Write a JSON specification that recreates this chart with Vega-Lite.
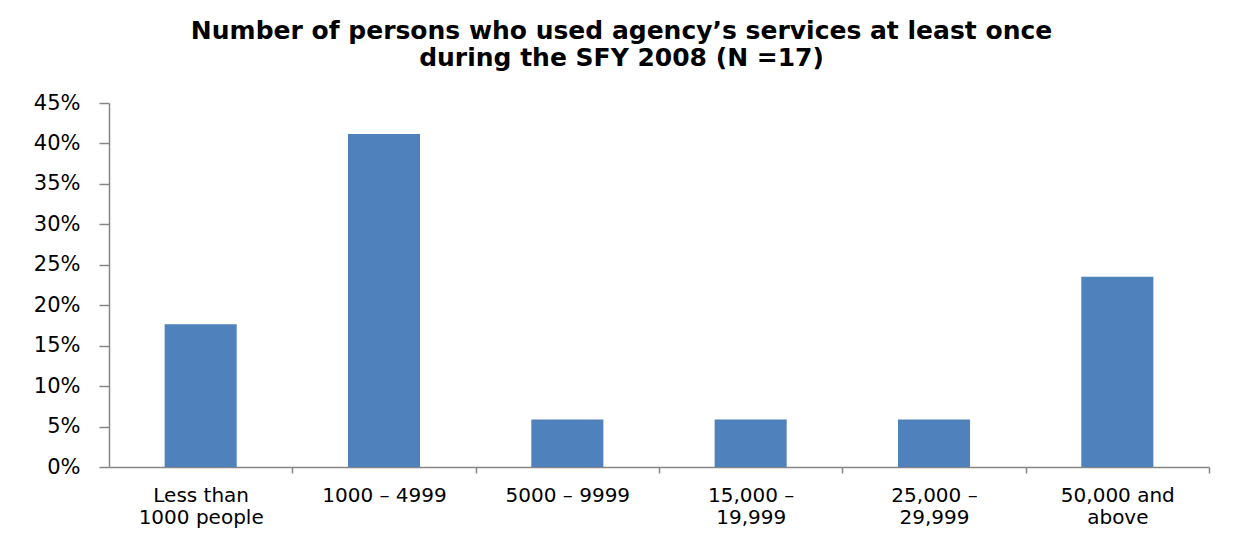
{
  "$schema": "https://vega.github.io/schema/vega-lite/v6.json",
  "width": 1100,
  "height": 364,
  "autosize": {"type": "none"},
  "padding": {"left": 109, "top": 103, "right": 27, "bottom": 71},
  "background": "white",
  "title": {
    "text": ["Number of persons who used agency’s services at least once", "during the SFY 2008 (N =17)"],
    "font": "DejaVu Sans",
    "fontSize": 25,
    "fontWeight": "bold",
    "color": "#000000",
    "frame": "bounds",
    "anchor": "middle",
    "lineHeight": 27,
    "offset": 21
  },
  "data": {
    "values": [
      {"category": "Less than|1000 people", "share": 0.1765},
      {"category": "1000 – 4999", "share": 0.4118},
      {"category": "5000 – 9999", "share": 0.0588},
      {"category": "15,000 –|19,999", "share": 0.0588},
      {"category": "25,000 –|29,999", "share": 0.0588},
      {"category": "50,000 and|above", "share": 0.2353}
    ]
  },
  "mark": {"type": "bar", "color": "#4F81BD"},
  "encoding": {
    "x": {
      "field": "category",
      "type": "nominal",
      "sort": null,
      "scale": {"paddingInner": 0.607, "paddingOuter": 0.3035},
      "axis": {
        "title": null,
        "labelAngle": 0,
        "labelExpr": "split(datum.value, '|')",
        "labelFont": "DejaVu Sans",
        "labelFontSize": 20,
        "labelColor": "#000000",
        "labelLineHeight": 22,
        "labelPadding": 12,
        "labelBaseline": "top",
        "tickOffset": 91.67,
        "labelOffset": -91.67,
        "tickSize": 6,
        "tickWidth": 1.5,
        "tickColor": "#868686",
        "domainColor": "#868686",
        "domainWidth": 1.5,
        "grid": false
      }
    },
    "y": {
      "field": "share",
      "type": "quantitative",
      "scale": {"domain": [0, 0.45], "nice": false},
      "axis": {
        "title": null,
        "values": [0, 0.05, 0.1, 0.15, 0.2, 0.25, 0.3, 0.35, 0.4, 0.45],
        "format": ".0%",
        "labelFont": "DejaVu Sans",
        "labelFontSize": 21,
        "labelColor": "#000000",
        "labelPadding": 19,
        "tickSize": 10,
        "tickWidth": 1.5,
        "tickColor": "#868686",
        "domainColor": "#868686",
        "domainWidth": 1.5,
        "grid": false
      }
    }
  },
  "config": {"view": {"stroke": null}}
}
